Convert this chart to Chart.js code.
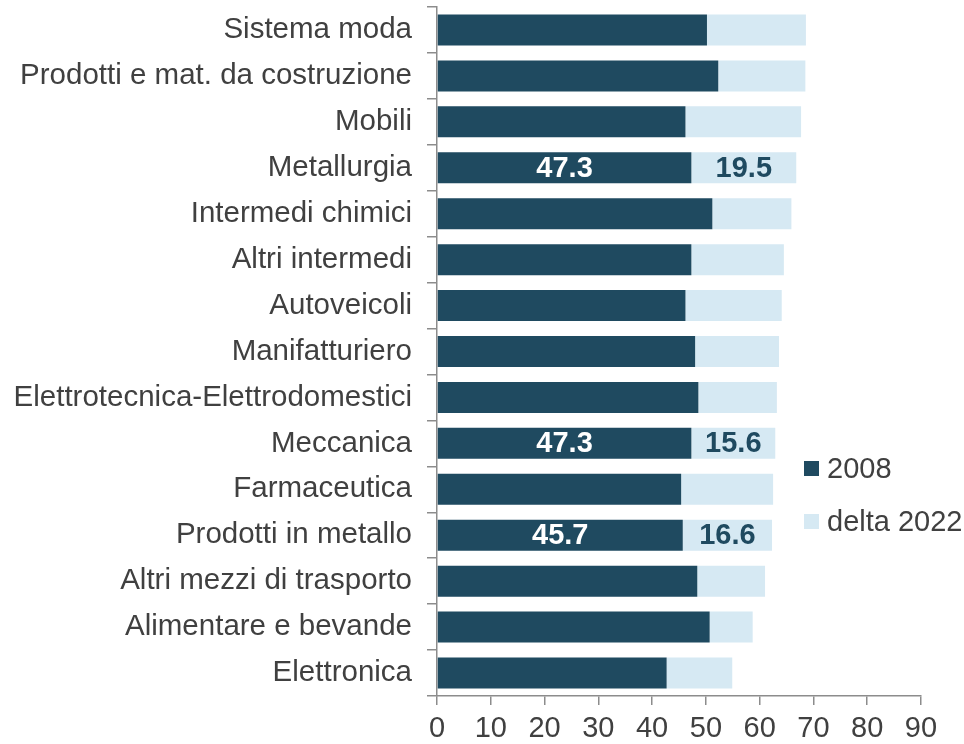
<!DOCTYPE html>
<html lang="it">
<head>
    <meta charset="UTF-8">
    <title>Settori 2008 / delta 2022</title>
    <style>
        body {
            margin: 0;
            background: #fff;
            font-family: 'Liberation Sans', Arial, sans-serif;
        }

        .wrap {
            position: relative;
            width: 964px;
            height: 744px;
        }

        /* legend sits on top of the plot, right side */
        .legend {
            position: absolute;
            left: 804px;
            top: 448px;
            font-size: 29px;
            color: #404040;
        }

        .legend .item {
            display: flex;
            align-items: center;
            height: 40px;
            margin-bottom: 13px;
        }

        .legend .box {
            width: 15px;
            height: 15px;
            margin-right: 8px;
        }
    </style>
    <script src="https://cdn.jsdelivr.net/npm/chart.js"></script>
</head>
<body>
    <div class="wrap">
        <canvas id="chart" width="964" height="744"></canvas>
        <div class="legend" id="legend"></div>
    </div>

    <script>
        const categories = [
            'Sistema moda',
            'Prodotti e mat. da costruzione',
            'Mobili',
            'Metallurgia',
            'Intermedi chimici',
            'Altri intermedi',
            'Autoveicoli',
            'Manifatturiero',
            'Elettrotecnica-Elettrodomestici',
            'Meccanica',
            'Farmaceutica',
            'Prodotti in metallo',
            'Altri mezzi di trasporto',
            'Alimentare e bevande',
            'Elettronica'
        ];
        const values2008  = [50.2, 52.3, 46.2, 47.3, 51.2, 47.3, 46.2, 48.0, 48.6, 47.3, 45.4, 45.7, 48.4, 50.7, 42.7];
        const delta2022   = [18.4, 16.2, 21.5, 19.5, 14.7, 17.2, 17.9, 15.6, 14.6, 15.6, 17.1, 16.6, 12.6, 8.0, 12.2];
        // only these rows carry value labels in the original
        const labeledCategories = ['Metallurgia', 'Meccanica', 'Prodotti in metallo'];
        const xTicks = [0, 10, 20, 30, 40, 50, 60, 70, 80, 90];

        const DARK = '#1f4a60';
        const LIGHT = '#d6e9f3';
        const TEXT = '#404040';
        const AXIS = '#8c8c8c';
        const FONT = "'Liberation Sans', Arial, sans-serif";

        // draw value labels inside the segments
        const valueLabels = {
            id: 'valueLabels',
            afterDatasetsDraw(chart) {
                const c = chart.ctx;
                c.save();
                c.font = 'bold 29px ' + FONT;
                c.textAlign = 'center';
                c.textBaseline = 'middle';
                chart.data.datasets.forEach((ds, di) => {
                    const meta = chart.getDatasetMeta(di);
                    meta.data.forEach((bar, i) => {
                        if (!labeledCategories.includes(categories[i])) return;
                        c.fillStyle = di === 0 ? '#ffffff' : DARK;
                        c.fillText(ds.data[i].toFixed(1), (bar.x + bar.base) / 2, bar.y + 1);
                    });
                });
                c.restore();
            }
        };

        const chart = new Chart(document.getElementById('chart'), {
            type: 'bar',
            data: {
                labels: categories,
                datasets: [
                    { label: '2008', data: values2008, backgroundColor: DARK },
                    { label: 'delta 2022', data: delta2022, backgroundColor: LIGHT }
                ]
            },
            options: {
                indexAxis: 'y',
                responsive: false,
                animation: false,
                layout: { padding: { top: 7, right: 43, left: 0, bottom: 0 } },
                datasets: {
                    bar: { barPercentage: 0.675, categoryPercentage: 1.0, borderWidth: 0 }
                },
                plugins: {
                    legend: { display: false },
                    tooltip: { enabled: false }
                },
                scales: {
                    x: {
                        stacked: true,
                        min: 0,
                        max: 90,
                        afterBuildTicks: (scale) => { scale.ticks = xTicks.map(v => ({ value: v })); },
                        afterFit: (scale) => { scale.height = 48; scale.paddingLeft = 0; scale.paddingRight = 0; },
                        grid: { drawOnChartArea: false, drawTicks: true, tickLength: 9, color: AXIS, lineWidth: 1.5 },
                        border: { display: true, color: AXIS, width: 1.5 },
                        ticks: { color: TEXT, font: { family: FONT, size: 29 }, padding: 7, maxRotation: 0 }
                    },
                    y: {
                        stacked: true,
                        // keep the plot pinned to the top, labels may overflow
                        afterFit: (scale) => { scale.width = 437; scale.paddingTop = 0; scale.paddingBottom = 0; },
                        grid: { drawOnChartArea: false, drawTicks: true, tickLength: 10, color: AXIS, lineWidth: 1.5 },
                        border: { display: true, color: AXIS, width: 1.5 },
                        ticks: { color: TEXT, font: { family: FONT, size: 29.5 }, padding: 15, autoSkip: false }
                    }
                }
            },
            plugins: [valueLabels]
        });

        // html legend
        const legend = document.getElementById('legend');
        chart.data.datasets.forEach(ds => {
            const item = document.createElement('div');
            item.className = 'item';
            item.innerHTML = '<span class="box" style="background:' + ds.backgroundColor + '"></span>' + ds.label;
            legend.appendChild(item);
        });
    </script>
</body>
</html>
